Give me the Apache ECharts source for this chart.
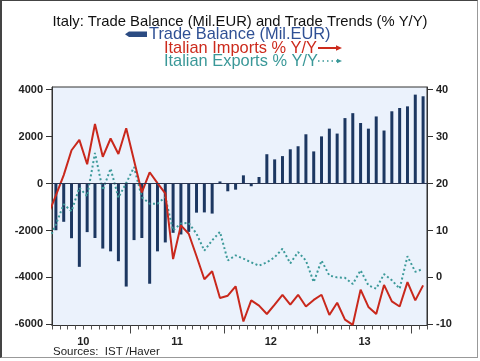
<!DOCTYPE html>
<html><head><meta charset="utf-8">
<script src="https://cdn.jsdelivr.net/npm/echarts@6/dist/echarts.min.js"></script>
<style>
html,body{margin:0;padding:0;background:#fff;}
#c{position:absolute;left:0;top:0;width:480px;height:361px;}
#frame{position:absolute;left:0;top:0;width:478px;height:358px;box-sizing:border-box;border:1px solid #999;border-left:2px solid #444;border-top:1px solid #444;pointer-events:none;}
</style></head>
<body>
<div id="c"></div><div id="frame"></div>
<script>
// Months Feb 2010 .. Feb 2014 (Feb 2010 only partly visible at the left edge)
const months = ['2010-02','2010-03','2010-04','2010-05','2010-06','2010-07','2010-08','2010-09','2010-10','2010-11','2010-12',
 '2011-01','2011-02','2011-03','2011-04','2011-05','2011-06','2011-07','2011-08','2011-09','2011-10','2011-11','2011-12',
 '2012-01','2012-02','2012-03','2012-04','2012-05','2012-06','2012-07','2012-08','2012-09','2012-10','2012-11','2012-12',
 '2013-01','2013-02','2013-03','2013-04','2013-05','2013-06','2013-07','2013-08','2013-09','2013-10','2013-11','2013-12',
 '2014-01','2014-02'];
// Trade balance, Mil.EUR (left axis)
const tradeBalance = [null,-1990,-1630,-2330,-3550,-2070,-2320,-2770,-2890,-3310,-4390,
 -2410,-2320,-4270,-2890,-2510,-2100,-2170,-2060,-1240,-1230,-1280,90,
 -330,-260,350,-115,280,1250,1030,1170,1460,1590,2100,1370,
 2010,2340,2130,2790,3000,2580,2340,2860,2260,3080,3220,3290,
 3790,3720];
// Italian imports % Y/Y (right axis)
const importsYY = [13.3,17.5,21.8,27.1,29.3,24.1,32.7,25.7,29.6,26.3,31.8,
 24.9,18.1,22.4,20.1,17.9,3.9,11.1,9.3,4.5,-0.4,1.3,-4.4,
 -3.9,-1.9,-9.4,-4.9,-6.0,-7.8,-5.8,-3.7,-5.8,-3.7,-6.2,-4.8,
 -3.7,-8.0,-5.4,-9.0,-10.1,-2.6,-6.3,-7.8,-1.6,-5.1,-6.2,-1.0,
 -4.9,-1.7];
// Italian exports % Y/Y (right axis)
const exportsYY = [7.5,11.3,15.6,14.1,19.1,17.3,26.5,18.6,23.2,17.0,20.1,
 23.5,17.1,15.7,15.7,17.1,10.0,11.5,11.6,9.3,5.7,7.9,9.7,
 3.6,4.7,4.0,3.2,2.5,3.2,4.3,6.1,3.0,5.4,3.6,-1.0,
 3.6,0.4,0.0,-0.1,-1.4,1.5,-1.7,-2.4,0.7,-0.6,-2.4,4.5,
 1.2,1.8];
const leftTicks = [-6000,-4000,-2000,0,2000,4000];
const rightTicks = [-10,0,10,20,30,40];
const yearLabels = ['10','11','12','13'];
const yearCenters = [4.5,16.5,28.5,40.5];     // middle of each calendar year (month index units)
const yearBounds = [10.5,22.5,34.5,46.5];     // January boundaries

const FONT = '"Liberation Sans", Arial, sans-serif';
const xMin = 0.5, xMax = 48.5;
const lMin = -6050, lMax = 4115;
const rMin = lMin/200 + 20, rMax = lMax/200 + 20;

const chart = echarts.init(document.getElementById('c'), null, {renderer:'canvas'});
const axisTextBold = {fontFamily: FONT, fontSize: 11, fontWeight: 'bold', color: '#222'};

chart.setOption({
  animation: false,
  backgroundColor: '#fff',
  title: {
    text: 'Italy: Trade Balance (Mil.EUR) and Trade Trends (% Y/Y)',
    left: 'center', top: 9,
    textStyle: {fontFamily: FONT, fontSize: 14.8, fontWeight: 'normal', color: '#111'}
  },
  grid: {left: 52, right: 53, top: 87, bottom: 35.5, show: true,
         backgroundColor: '#EBF2FC', borderColor: '#333', borderWidth: 1},
  xAxis: [{
    type: 'value', min: xMin, max: xMax, interval: 1, position: 'bottom',
    axisLine: {show: true, onZero: false, lineStyle: {color: '#333', width: 1}},
    axisTick: {show: true, length: 4, lineStyle: {color: '#555'}},
    axisLabel: {show: false}, splitLine: {show: false}
  },{
    type: 'value', min: xMin, max: xMax, position: 'bottom',
    axisLine: {show: false, onZero: false},
    axisTick: {show: true, length: 8, customValues: yearBounds, lineStyle: {color: '#444'}},
    axisLabel: {show: true, customValues: yearCenters, margin: 11,
      formatter: v => yearLabels[yearCenters.indexOf(v)] || '', ...axisTextBold},
    splitLine: {show: false}
  }],
  yAxis: [{
    type: 'value', min: lMin, max: lMax, position: 'left',
    axisLine: {show: true, onZero: false, lineStyle: {color: '#333'}},
    axisTick: {show: true, length: 6, customValues: leftTicks, lineStyle: {color: '#333'}},
    axisLabel: {customValues: leftTicks, margin: 9, formatter: v => String(v), ...axisTextBold},
    splitLine: {show: false}
  },{
    type: 'value', min: rMin, max: rMax, position: 'right',
    axisLine: {show: true, onZero: false, lineStyle: {color: '#333'}},
    axisTick: {show: true, length: 6, customValues: rightTicks, lineStyle: {color: '#333'}},
    axisLabel: {customValues: rightTicks, margin: 9, formatter: v => String(v), ...axisTextBold},
    splitLine: {show: false}
  }],
  series: [{
    name: 'Trade Balance (Mil.EUR)', type: 'bar', xAxisIndex: 0, yAxisIndex: 0,
    barWidth: 3, itemStyle: {color: '#1C3761'},
    data: months.map((m,i) => [i, tradeBalance[i]]),
    markLine: {silent: true, symbol: 'none', label: {show: false},
      lineStyle: {color: '#2a3550', width: 1, type: 'solid'}, data: [{yAxis: 0}]},
    z: 2
  },{
    name: 'Italian Exports % Y/Y', type: 'line', xAxisIndex: 0, yAxisIndex: 1,
    showSymbol: false, clip: true,
    lineStyle: {color: '#3D9A9A', width: 2, type: [2, 2.5]},
    data: months.map((m,i) => [i, exportsYY[i]]), z: 3
  },{
    name: 'Italian Imports % Y/Y', type: 'line', xAxisIndex: 0, yAxisIndex: 1,
    showSymbol: false, clip: true,
    lineStyle: {color: '#C9281C', width: 2},
    data: months.map((m,i) => [i, importsYY[i]]), z: 4
  }],
  graphic: [
    {type: 'polygon', shape: {points: [[125,34.3],[129,31.6],[147,31.6],[147,37],[129,37]]}, style: {fill: '#2B4B82'}},
    {type: 'text', x: 149, y: 34.5, style: {text: 'Trade Balance (Mil.EUR)', fill: '#2F5094', font: '16.4px ' + FONT, textVerticalAlign: 'middle'}},
    {type: 'text', x: 164, y: 48, style: {text: 'Italian Imports % Y/Y', fill: '#CC2A1C', font: '16.4px ' + FONT, textVerticalAlign: 'middle'}},
    {type: 'line', shape: {x1: 318, y1: 48, x2: 337, y2: 48}, style: {stroke: '#CC2A1C', lineWidth: 2}},
    {type: 'polygon', shape: {points: [[336,45.3],[342,48],[336,50.7]]}, style: {fill: '#CC2A1C'}},
    {type: 'text', x: 164, y: 61.5, style: {text: 'Italian Exports % Y/Y', fill: '#3A9898', font: '16.4px ' + FONT, textVerticalAlign: 'middle'}},
    {type: 'line', shape: {x1: 318, y1: 61, x2: 337, y2: 61}, style: {stroke: '#3A9898', lineWidth: 1.6, lineDash: [1.5, 3]}},
    {type: 'polygon', shape: {points: [[337,58.8],[342,61],[337,63.2]]}, style: {fill: '#3A9898'}},
    {type: 'text', x: 53, y: 352, style: {text: 'Sources:  IST /Haver', fill: '#222', font: '11.5px ' + FONT, textVerticalAlign: 'middle'}}
  ]
});
</script>
</body></html>
